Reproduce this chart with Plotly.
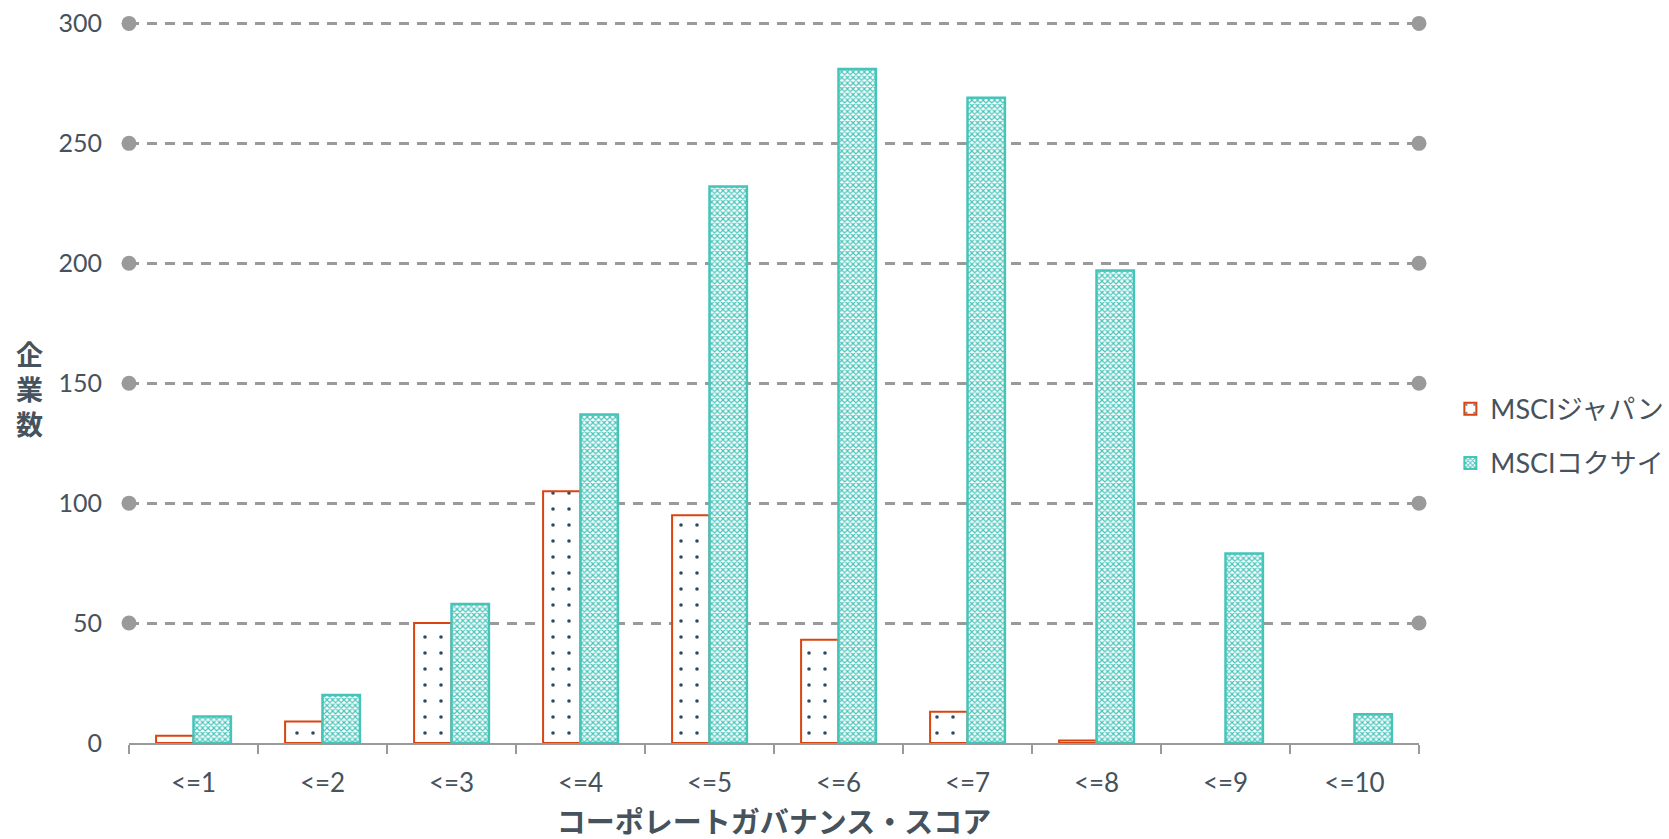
import plotly.graph_objects as go

# Score buckets and company counts per index
categories = ["<=1", "<=2", "<=3", "<=4", "<=5", "<=6", "<=7", "<=8", "<=9", "<=10"]
msci_japan = [3, 9, 50, 105, 95, 43, 13, 1, 0, 0]
msci_kokusai = [11, 20, 58, 137, 232, 281, 269, 197, 79, 12]

y_ticks = [0, 50, 100, 150, 200, 250, 300]
grid_levels = [50, 100, 150, 200, 250, 300]

series_names = ["MSCIジャパン", "MSCIコクサイ"]
x_title = "コーポレートガバナンス・スコア"
y_title = "企<br>業<br>数"

TEXT = "#46525C"
GRID = "#9A9A9A"
ORANGE = "#D9440F"
TEAL = "#45C4BA"
FONT = "Lato, Noto Sans CJK JP, sans-serif"
DASH = "10px,8px"

fig = go.Figure()

fig.add_trace(go.Bar(
    x=categories, y=msci_japan, name=series_names[0],
    marker=dict(
        color="white",
        # empty buckets get no outline
        line=dict(color=ORANGE, width=[2 if v > 0 else 0 for v in msci_japan]),
        pattern=dict(shape=".", fgcolor="#2E4A5F", bgcolor="white",
                     size=16, solidity=0.04, fillmode="replace"),
    ),
    legendgroup="a",
))
fig.add_trace(go.Bar(
    x=categories, y=msci_kokusai, name=series_names[1],
    marker=dict(
        color="white",
        line=dict(color=TEAL, width=2.5),
        pattern=dict(shape="x", fgcolor=TEAL, bgcolor="white",
                     size=4, solidity=0.5, fillmode="replace"),
    ),
    legendgroup="b",
))

# Round end caps on each horizontal gridline
for lvl in grid_levels:
    fig.add_trace(go.Scatter(
        x=[0, 1], y=[lvl, lvl], xaxis="x2", mode="markers",
        marker=dict(size=15, color=GRID), cliponaxis=False,
        showlegend=False, hoverinfo="skip",
    ))

fig.update_layout(
    width=1669, height=839,
    margin=dict(l=129, r=250, t=21, b=96, autoexpand=False),
    paper_bgcolor="white", plot_bgcolor="white",
    font=dict(family=FONT, size=25, color=TEXT),
    barmode="group", bargap=0.42, bargroupgap=0,
    showlegend=True,
    legend=dict(xref="container", x=0.869, xanchor="left",
                yref="container", y=0.48, yanchor="middle",
                font=dict(size=27, color=TEXT), tracegroupgap=16,
                itemsizing="constant"),
    xaxis=dict(
        type="category", showline=True, linecolor=GRID, linewidth=2,
        ticks="outside", tickson="boundaries", ticklen=9, tickwidth=2,
        tickcolor=GRID, showgrid=False, tickfont=dict(size=26, color=TEXT),
        ticklabelstandoff=16, automargin=False,
        title=dict(text=x_title, font=dict(size=29, color=TEXT, weight="bold"),
                   standoff=23),
    ),
    xaxis2=dict(overlaying="x", range=[0, 1], visible=False, fixedrange=True),
    yaxis=dict(
        range=[0, 301], tickvals=y_ticks, showgrid=True, gridcolor=GRID,
        gridwidth=2.5, griddash=DASH, zeroline=False, showline=False,
        tickfont=dict(size=25, color=TEXT), ticklabelstandoff=26,
        automargin=False,
    ),
    annotations=[dict(
        text=y_title, xref="paper", yref="paper", x=-0.089, y=0.49,
        showarrow=False, font=dict(size=27, color=TEXT, weight="bold"),
        align="center",
    )],
)

fig.write_html("out.html")
